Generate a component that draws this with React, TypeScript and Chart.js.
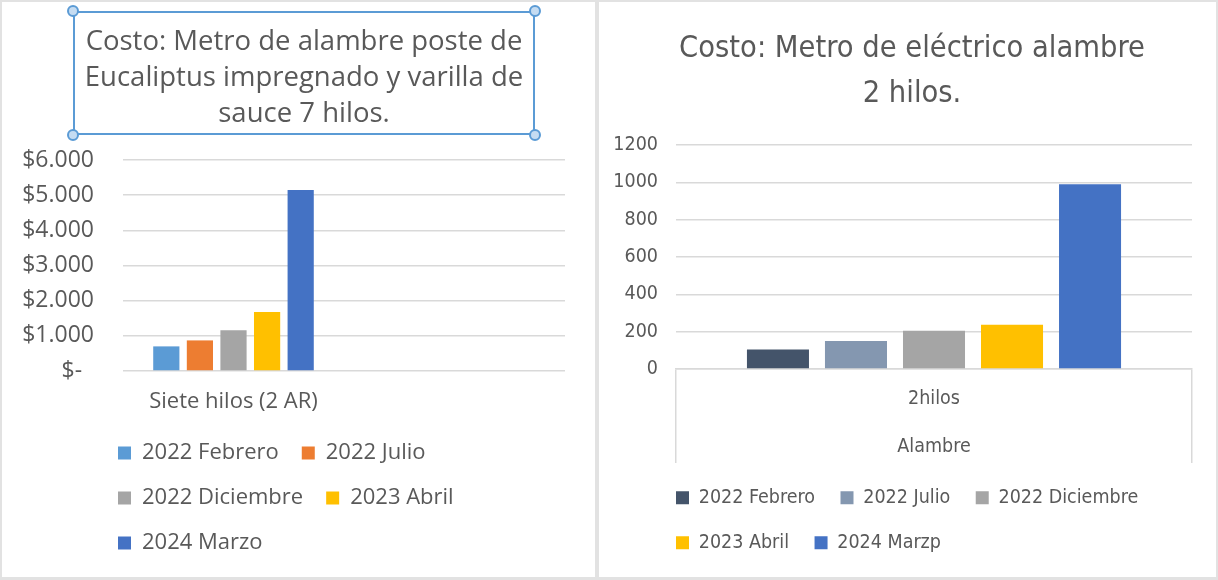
import React, { useEffect, useRef } from 'react';
import { Chart, registerables } from 'chart.js';

Chart.register(...registerables);

// ---------- Left chart data ----------
const leftCategories = ['Siete hilos (2 AR)', ''];
const leftSeriesNames = ['2022 Febrero', '2022 Julio', '2022 Diciembre', '2023 Abril', '2024 Marzo'];
const leftValues = [700, 870, 1160, 1680, 5150];
const leftColors = ['#5B9BD5', '#ED7D31', '#A5A5A5', '#FFC000', '#4472C4'];
const leftTitle = ['Costo: Metro de alambre poste de', 'Eucaliptus impregnado y varilla de', 'sauce 7 hilos.'];
const leftMax = 6000;
const leftStep = 1000;

// ---------- Right chart data ----------
const rightCategories = [['2hilos', 'Alambre']];
const rightSeriesNames = ['2022 Febrero', '2022 Julio', '2022 Diciembre', '2023 Abril', '2024 Marzp'];
const rightValues = [105, 150, 205, 237, 990];
const rightColors = ['#44546A', '#8497B0', '#A5A5A5', '#FFC000', '#4472C4'];
const rightTitle = ['Costo: Metro de eléctrico alambre', '2 hilos.'];
const rightMax = 1200;
const rightStep = 200;

const TEXT = '#595959';
const GRID = '#d9d9d9';
const LF = '"Open Sans", "Noto Sans", sans-serif';
const RF = '"DejaVu Sans Condensed", "Liberation Sans Narrow", "Roboto", sans-serif';

function fmtPeso(v: number): string {
  if (v === 0) return '$-  ';
  return '$' + String(v).replace(/\B(?=(\d{3})+(?!\d))/g, '.');
}

function shiftPlugin(legendBoxX: number, titleDx: number) {
  return {
    id: 'shiftBoxes',
    afterLayout(chart: any) {
      const lg = chart.legend;
      if (lg) {
        const pad = lg.options.labels.padding;
        const w = lg.right - lg.left;
        lg.left = legendBoxX - pad;
        lg.right = lg.left + w;
      }
      const tb = chart.titleBlock;
      if (tb) {
        tb.left += titleDx;
        tb.right += titleDx;
      }
    },
  };
}

function makeLeft(): any {
  return {
    type: 'bar',
    data: {
      labels: leftCategories,
      datasets: leftSeriesNames.map((name, i) => ({
        label: name,
        data: [leftValues[i], null],
        backgroundColor: leftColors[i],
        borderWidth: 0,
        categoryPercentage: 0.76,
        barPercentage: 0.78,
      })),
    },
    plugins: [shiftPlugin(116, 20.5)],
    options: {
      animation: false,
      responsive: false,
      maintainAspectRatio: false,
      layout: { padding: { left: 0, right: 30, top: 0, bottom: 13 } },
      plugins: {
        title: {
          display: true,
          text: leftTitle,
          color: TEXT,
          font: { family: LF, size: 27.5, weight: 'normal', lineHeight: 36 / 27.5 },
          padding: { top: 22, bottom: 28 },
        },
        legend: {
          position: 'bottom',
          align: 'start',
          fullSize: false,
          labels: {
            boxWidth: 13,
            boxHeight: 13,
            padding: 23,
            color: TEXT,
            font: { family: LF, size: 22 },
          },
        },
        tooltip: { enabled: false },
      },
      scales: {
        x: {
          grid: { display: false, drawTicks: false },
          border: { display: false },
          ticks: { color: TEXT, font: { family: LF, size: 22 }, padding: 18, maxRotation: 0, autoSkip: false },
          afterFit: (s: any) => { s.height = 48; },
        },
        y: {
          min: 0,
          max: leftMax,
          ticks: { stepSize: leftStep, autoSkip: false, color: TEXT, font: { family: LF, size: 23 }, padding: 29, callback: (v: any) => fmtPeso(Number(v)) },
          grid: { color: GRID, drawTicks: false, lineWidth: 1.5 },
          border: { display: false },
          afterFit: (s: any) => { s.width = 121; },
        },
      },
    },
  };
}

function makeRight(): any {
  return {
    type: 'bar',
    data: {
      labels: rightCategories,
      datasets: rightSeriesNames.map((name, i) => ({
        label: name,
        data: [rightValues[i]],
        backgroundColor: rightColors[i],
        borderWidth: 0,
        categoryPercentage: 0.756,
        barPercentage: 0.795,
      })),
    },
    plugins: [shiftPlugin(77, 16.5)],
    options: {
      animation: false,
      responsive: false,
      maintainAspectRatio: false,
      layout: { padding: { left: 0, right: 24, top: 0, bottom: 14.5 } },
      plugins: {
        title: {
          display: true,
          text: rightTitle,
          color: TEXT,
          font: { family: RF, size: 30.5, weight: 'normal', lineHeight: 45 / 30.5 },
          padding: { top: 24.5, bottom: 28.5 },
        },
        legend: {
          position: 'bottom',
          align: 'start',
          fullSize: false,
          labels: {
            boxWidth: 13,
            boxHeight: 13,
            padding: 25.5,
            color: TEXT,
            font: { family: RF, size: 19.5 },
          },
        },
        tooltip: { enabled: false },
      },
      scales: {
        x: {
          grid: { display: true, offset: true, drawOnChartArea: false, drawTicks: true, tickLength: 94, color: GRID, lineWidth: 1.5 },
          border: { display: true, color: GRID, width: 1.5 },
          ticks: { color: TEXT, font: { family: RF, size: 19.5, lineHeight: 48 / 19.5 }, padding: -88, maxRotation: 0, autoSkip: false },
          afterFit: (s: any) => { s.height = 93.5; },
        },
        y: {
          min: 0,
          max: rightMax,
          ticks: { stepSize: rightStep, autoSkip: false, color: TEXT, font: { family: RF, size: 19.5 }, padding: 18, callback: (v: any) => String(v) },
          grid: { color: GRID, drawTicks: false, lineWidth: 1.5 },
          border: { display: false },
          afterFit: (s: any) => { s.width = 77; },
        },
      },
    },
  };
}

function ChartCanvas({ width, height, make }: { width: number; height: number; make: () => any }) {
  const ref = useRef<HTMLCanvasElement | null>(null);
  useEffect(() => {
    if (!ref.current) return;
    const chart = new Chart(ref.current, make());
    return () => chart.destroy();
  }, []);
  return <canvas ref={ref} width={width} height={height} style={{ width, height, display: 'block' }} />;
}

const handle = (x: number, y: number): React.CSSProperties => ({
  position: 'absolute',
  left: x - 6,
  top: y - 6,
  width: 12,
  height: 12,
  borderRadius: '50%',
  background: '#c5dcf2',
  border: '2px solid #5B9BD5',
  boxSizing: 'border-box',
});

export default function App() {
  return (
    <div style={{ position: 'fixed', left: 0, top: 0, width: 1218, height: 580, background: '#e2e2e2', overflow: 'hidden' }}>
      <div style={{ position: 'absolute', left: 2, top: 2, width: 593, height: 575, background: '#fff' }}>
        <ChartCanvas width={593} height={575} make={makeLeft} />
      </div>
      <div style={{ position: 'absolute', left: 73, top: 11, width: 462, height: 124, border: '2px solid #5B9BD5', boxSizing: 'border-box', pointerEvents: 'none' }} />
      <div style={handle(73, 11)} />
      <div style={handle(535, 11)} />
      <div style={handle(73, 135)} />
      <div style={handle(535, 135)} />
      <div style={{ position: 'absolute', left: 599, top: 2, width: 617, height: 575, background: '#fff' }}>
        <ChartCanvas width={617} height={575} make={makeRight} />
      </div>
    </div>
  );
}
